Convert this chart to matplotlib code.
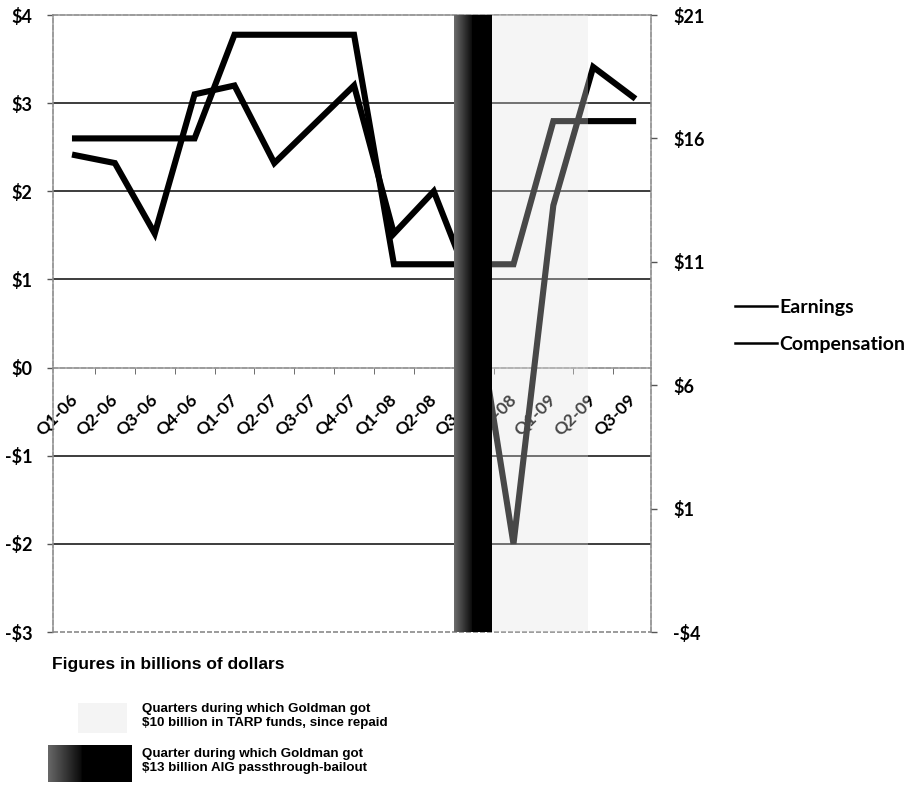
import numpy as np
import matplotlib
matplotlib.use("Agg")
import matplotlib.pyplot as plt
from matplotlib.lines import Line2D
from matplotlib.patches import Rectangle

# ---------------- data ----------------
quarters = ['Q1-06', 'Q2-06', 'Q3-06', 'Q4-06', 'Q1-07', 'Q2-07', 'Q3-07', 'Q4-07',
            'Q1-08', 'Q2-08', 'Q3-08', 'Q4-08', 'Q1-09', 'Q2-09', 'Q3-09']
earnings = [2.41, 2.32, 1.52, 3.10, 3.20, 2.32, 2.76, 3.20,
            1.52, 2.00, 0.85, -2.00, 1.84, 3.41, 3.07]
compensation = [16.0, 16.0, 16.0, 16.0, 20.2, 20.2, 20.2, 20.2,
                10.9, 10.9, 10.9, 10.9, 16.7, 16.7, 16.7]
left_ticks = [4, 3, 2, 1, 0, -1, -2, -3]
left_labels = ['$4', '$3', '$2', '$1', '$0', '-$1', '-$2', '-$3']
right_ticks = [21, 16, 11, 6, 1, -4]
right_labels = ['$21', '$16', '$11', '$6', '$1', '-$4']
series_names = ['Earnings', 'Compensation']

W, H = 908, 785
fig = plt.figure(figsize=(W / 100, H / 100), dpi=100)
fig.patch.set_facecolor('white')

L, R, T, B = 52.5, 651, 15, 632
ax = fig.add_axes([L / W, 1 - B / H, (R - L) / W, (B - T) / H])
ax2 = ax.twinx()

x = np.arange(len(quarters))
ax.set_xlim(-0.565, 14.45)
ax.set_ylim(-3, 4)
ax2.set_ylim(-4, 21)

border_kw = dict(color='#8a8a8a', lw=1.2, linestyle=(0, (3, 1.2)))
grid_kw = dict(color='#3c3c3c', lw=1.4)

# gridlines
for g in [3, 2, 1, -1, -2]:
    ax.axhline(g, zorder=1, **grid_kw)
ax.axhline(-3, zorder=1, clip_on=False, **border_kw)

for s in ['top', 'left', 'right', 'bottom']:
    ax.spines[s].set_color('#8a8a8a')
    ax.spines[s].set_linewidth(1.2)
    ax.spines[s].set_linestyle((0, (3, 1.2)))
for s in ax2.spines.values():
    s.set_visible(False)
ax.spines['bottom'].set_position(('data', 0))

# lines
ax.plot(x, earnings, color='black', lw=4.4, solid_joinstyle='miter', zorder=3)
ax2.plot(x, compensation, color='black', lw=4.4, solid_joinstyle='miter', zorder=3)

# shaded bands (overlaid)
ax2.axvspan(10.45, 12.87, color='#e2e2e2', alpha=0.32, lw=0, zorder=5)
grad = np.concatenate([np.linspace(0.42, 0.06, 18), np.full(20, 0.0)])[None, :]
ax2.imshow(grad, cmap='gray', vmin=0, vmax=1, aspect='auto',
           extent=(9.5, 10.45, -4, 21), zorder=6, interpolation='bilinear')
ax2.set_xlim(-0.565, 14.45)
ax2.set_ylim(-4, 21)

# ticks
tick_font = dict(family='Lato', weight='bold', size=13)
ax.set_yticks(left_ticks)
ax.set_yticklabels(left_labels, **tick_font)
ax.tick_params(axis='y', direction='out', length=4, width=1, color='#555', pad=10.5)
ax2.set_yticks(right_ticks)
ax2.set_yticklabels(right_labels, **tick_font)
ax2.tick_params(axis='y', direction='out', length=4, width=1, color='#555', pad=12)

ax.set_xticks(x)
ax.set_xticklabels(quarters, family='Lato', weight='bold', size=12.5,
                   rotation=45, ha='right', va='center', rotation_mode='anchor')
ax.tick_params(axis='x', which='major', length=0, pad=21)
ax.set_xticks(x[:-1] + 0.5, minor=True)
ax.tick_params(axis='x', which='minor', direction='out', length=4, color='#555')

# right legend
handles = [Line2D([], [], color='black', lw=1.8), Line2D([], [], color='black', lw=1.8)]
fig.legend(handles, series_names, loc='center left',
           bbox_to_anchor=(735 / W, 1 - 326 / H), frameon=False,
           prop=dict(family='Lato', weight='bold', size=14),
           handlelength=2.15, handletextpad=0.15, labelspacing=1.05,
           borderpad=0, borderaxespad=0)

# bottom notes
fig.text(52 / W, 1 - 665 / H, 'Figures in billions of dollars',
         family='Liberation Sans', weight='bold', size=12.5, va='center', ha='left')

fig.add_artist(Rectangle((78 / W, 1 - 733 / H), 49 / W, 30 / H,
                         transform=fig.transFigure, color='#f4f4f4', lw=0))
fig.text(142 / W, 1 - 716 / H,
         'Quarters during which Goldman got\n$10 billion in TARP funds, since repaid',
         family='Liberation Sans', weight='bold', size=9.6, va='center', ha='left',
         linespacing=1.2)

pax = fig.add_axes([48 / W, 1 - 782 / H, 84 / W, 37 / H])
pax.imshow(np.concatenate([np.linspace(0.4, 0.05, 20), np.full(30, 0.0)])[None, :],
           cmap='gray', vmin=0, vmax=1, aspect='auto', interpolation='bilinear')
pax.axis('off')
fig.text(142 / W, 1 - 761 / H,
         'Quarter during which Goldman got\n$13 billion AIG passthrough-bailout',
         family='Liberation Sans', weight='bold', size=9.6, va='center', ha='left',
         linespacing=1.2)

fig.savefig('out.png', dpi=100, facecolor='white')
